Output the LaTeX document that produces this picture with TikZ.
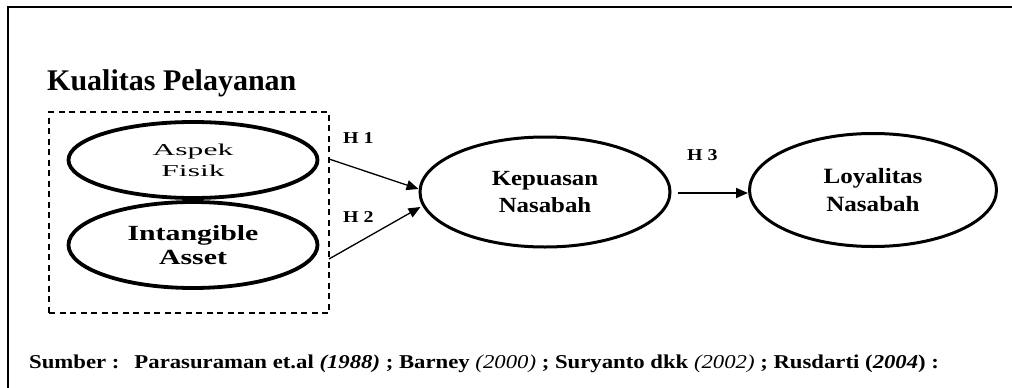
\documentclass[tikz,border=0pt]{standalone}
\usepackage{fontspec}
\setmainfont{Liberation Serif}
\newfontfamily\AspekFnt[FakeStretch=1.9]{Liberation Serif}
\newfontfamily\IntgFnt[FakeStretch=1.38]{Liberation Serif}
\newfontfamily\VarFnt[FakeStretch=1.15]{Liberation Serif}
\newfontfamily\HypFnt[FakeStretch=1.2]{Liberation Serif}
\newfontfamily\SrcFnt[FakeStretch=1.16]{Liberation Serif}
\usetikzlibrary{arrows.meta,calc,shapes.geometric,positioning}
\usepackage{tkz-euclide}
\definecolor{LineClr}{RGB}{0,0,0}

\begin{document}
\begin{tikzpicture}[x=1pt,y=-1pt,
  varnode/.style={draw=LineClr,ellipse,inner sep=0pt,align=center},
  hyparrow/.style={draw=LineClr,line width=1.3pt,-{Triangle[length=12pt,width=10pt]}},
  hyplabel/.style={anchor=base west,inner sep=0pt,font=\HypFnt\bfseries\fontsize{16.6}{18}\selectfont}]
\useasboundingbox (0,0) rectangle (1012,388);

\tkzDefPoints{329/159/S1,329/259/S2}

% frame
\draw[line width=2.5pt,LineClr] (1012,7) -- (8,7) -- (8,388);

\node[anchor=base west,inner sep=0pt,font=\bfseries\fontsize{30}{30}\selectfont] (title) at (47,90) {Kualitas Pelayanan};
\node[draw=LineClr,dashed,dash pattern=on 6pt off 4.5pt,line width=1.4pt,minimum width=280pt,minimum height=201pt,inner sep=0pt] (grp) at (189,212.5) {};

\node[varnode,line width=3.8pt,minimum width=249pt,minimum height=76pt,font=\AspekFnt\fontsize{16.6}{21}\selectfont] (aspek) at (193,160) {Aspek\\Fisik};
\node[varnode,line width=3.8pt,minimum width=249pt,minimum height=86pt,font=\IntgFnt\bfseries\fontsize{21.6}{24}\selectfont] (intg) at (193,245) {Intangible\\Asset};
\node[varnode,line width=3pt,minimum width=250pt,minimum height=110pt,font=\VarFnt\bfseries\fontsize{21.6}{27}\selectfont] (kep) at (545,192) {Kepuasan\\Nasabah};
\node[varnode,line width=3pt,minimum width=247pt,minimum height=113pt,font=\VarFnt\bfseries\fontsize{21.8}{28}\selectfont] (loy) at (873,190) {Loyalitas\\Nasabah};

\draw[hyparrow] (S1) -- ($(kep.west)+(0,-3)$);
\draw[hyparrow] (S2) -- ($(kep.west)+(2,15)$);
\draw[hyparrow,line width=1.8pt,shorten <=6pt] ($(kep.east)+(0,1)$) -- ($(kep.east -| loy.west)+(0,1)$);

\node[hyplabel] (h1) at (343,143) {H 1};
\node[hyplabel] (h2) at (343,222) {H 2};
\node[hyplabel] (h3) at (687,160) {H 3};

\node[anchor=base west,inner sep=0pt,font=\SrcFnt\bfseries\fontsize{19.6}{22}\selectfont] (src) at (29,368)
  {Sumber :\hspace{15pt}Parasuraman et.al \textit{(1988)} ; Barney {\mdseries\itshape (2000)} ; Suryanto dkk {\mdseries\itshape (2002)} ; Rusdarti (\textit{2004}) :};

\end{tikzpicture}
\end{document}
